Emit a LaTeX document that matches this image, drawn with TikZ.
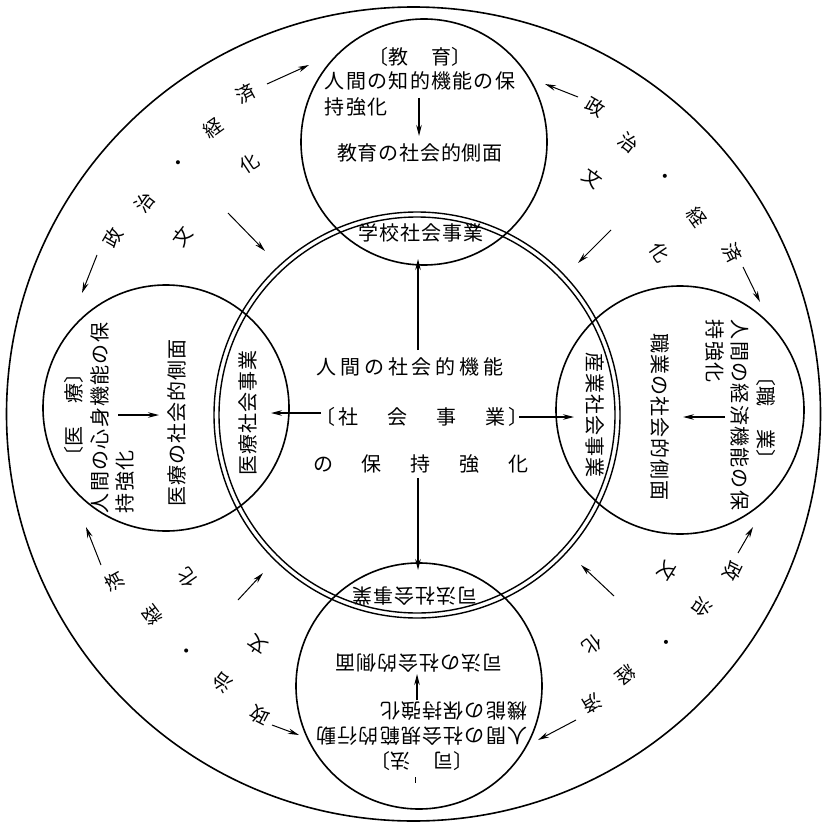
\documentclass[tikz,border=0pt]{standalone}
\usepackage{fontspec}
\newfontfamily\jp{Noto Sans CJK JP}
\usetikzlibrary{arrows.meta}
\makeatletter
\newcommand\spc[2]{\begingroup\@tfor\spcch:=#2\do{\makebox[#1]{\spcch}}\endgroup}
\makeatother
\begin{document}
\begin{tikzpicture}[x=1pt,y=-1pt,
  txt/.style={font=\jp\fontsize{20}{22}\selectfont, inner sep=0pt},
  ringch/.style={font=\jp\fontsize{19}{20}\selectfont, inner sep=0pt},
  circ/.style={draw, circle, line width=1.6pt, inner sep=0pt},
  dcirc/.style={draw, circle, line width=1.4pt, inner sep=0pt},
  arr/.style={-{Stealth[length=11pt,width=5.5pt]}, line width=1.2pt},
  rarr/.style={-{Stealth[length=11pt,width=5.5pt]}, line width=1pt}]
\fill[white] (0,0) rectangle (821,826);
\useasboundingbox (0,0) rectangle (821,826);

% circles
\node[circ, minimum size=814pt] (outer) at (413.5,414) {};
\node[dcirc, minimum size=406pt] (mainO) at (417,415) {};
\node[dcirc, minimum size=396pt] (mainI) at (417,415) {};
\node[circ, minimum size=246pt] (topC) at (424,142) {};
\node[circ, minimum size=248pt] (rightC) at (680,410) {};
\node[circ, minimum size=246pt] (botC) at (419,686) {};
\node[circ, minimum size=246pt] (leftC) at (166,408) {};

% top circle
\node[txt] (t1) at (420,57) {〔教\hspace{23pt}育〕};
\node[txt, anchor=west] (t2) at (324,81) {\spc{21.3pt}{人間の知的機能の保}};
\node[txt, anchor=west] (t3) at (324,107) {\spc{21.3pt}{持強化}};
\node[txt] (t4) at (420,153) {\spc{20.8pt}{教育の社会的側面}};
\node[txt] (t5) at (421,233) {\spc{21pt}{学校社会事業}};
\coordinate (ta1) at (419,98); \coordinate (ta2) at (419,136);
\draw[arr] (ta1) -- (ta2);

% right circle
\node[txt, rotate=-90] (r1) at (766,418) {〔職\hspace{23pt}業〕};
\node[txt, rotate=-90, anchor=west] (r2) at (740,319) {\spc{21.3pt}{人間の経済機能の保}};
\node[txt, rotate=-90, anchor=west] (r3) at (715,319) {\spc{21.3pt}{持強化}};
\node[txt, rotate=-90] (r4) at (660,417) {\spc{21pt}{職業の社会的側面}};
\node[txt, rotate=-90] (r5) at (595,415) {\spc{21pt}{産業社会事業}};
\coordinate (ra1) at (725,417); \coordinate (ra2) at (683,417);
\draw[arr] (ra1) -- (ra2);

% bottom circle
\node[txt, rotate=180] (b1) at (422,761) {〔司\hspace{23pt}法〕};
\node[txt, rotate=180, anchor=west] (b2) at (528,736) {\spc{21.2pt}{人間の社会規範的行動}};
\node[txt, rotate=180, anchor=west] (b3) at (528,711) {\spc{21.2pt}{機能の保持強化}};
\node[txt, rotate=180] (b4) at (419,663) {\spc{21pt}{司法の社会的側面}};
\node[txt, rotate=180] (b5) at (415,596) {\spc{21pt}{司法社会事業}};
\coordinate (ba1) at (417,700); \coordinate (ba2) at (417,674);
\draw[arr] (ba1) -- (ba2);
\coordinate (tk1) at (415,777); \coordinate (tk2) at (415,783);
\draw[line width=1pt] (tk1) -- (tk2);

% left circle
\node[txt, rotate=90] (l1) at (74,415) {〔医\hspace{23pt}療〕};
\node[txt, rotate=90, anchor=west] (l2) at (100,514) {\spc{21.3pt}{人間の心身機能の保}};
\node[txt, rotate=90, anchor=west] (l3) at (125,514) {\spc{21.3pt}{持強化}};
\node[txt, rotate=90] (l4) at (177,423) {\spc{21pt}{医療の社会的側面}};
\node[txt, rotate=90] (l5) at (248,413) {\spc{21pt}{医療社会事業}};
\coordinate (la1) at (118,415); \coordinate (la2) at (159,415);
\draw[arr] (la1) -- (la2);

% center
\node[txt] (c1) at (410,367) {\spc{23.8pt}{人間の社会的機能}};
\node[txt] (c2) at (422,417) {〔\hspace{3pt}社\hspace{29pt}会\hspace{29pt}事\hspace{29pt}業\hspace{3pt}〕};
\node[txt] (c3) at (421,464) {\spc{49pt}{の保持強化}};
\coordinate (cu1) at (418,350); \coordinate (cu2) at (418,259);
\coordinate (cd1) at (418,478); \coordinate (cd2) at (418,570);
\coordinate (cl1) at (321,413); \coordinate (cl2) at (271,413);
\coordinate (cr1) at (519,417); \coordinate (cr2) at (574,417);
\draw[arr] (cu1) -- (cu2);
\draw[arr] (cd1) -- (cd2);
\draw[arr] (cl1) -- (cl2);
\draw[arr] (cr1) -- (cr2);

% ring: top-left
\node[ringch, rotate=59.8] (q1a) at (113,238) {政};
\node[ringch, rotate=52] (q1b) at (145,203) {治};
\node[ringch, rotate=43.5] (q1c) at (180,165) {・};
\node[ringch, rotate=35.4] (q1d) at (213,128) {経};
\node[ringch, rotate=28] (q1e) at (246,94) {済};
\node[ringch, rotate=52.7] (q1f) at (183,237) {文};
\node[ringch, rotate=33.5] (q1g) at (250,163) {化};
% ring: top-right
\node[ringch, rotate=-30] (q2a) at (595,107) {政};
\node[ringch, rotate=-37.8] (q2b) at (628,143) {治};
\node[ringch, rotate=-46] (q2c) at (663,178) {・};
\node[ringch, rotate=-54.7] (q2d) at (697,217) {経};
\node[ringch, rotate=-62.8] (q2e) at (732,253) {済};
\node[ringch, rotate=-36.4] (q2f) at (592,178) {文};
\node[ringch, rotate=-56.1] (q2g) at (660,252) {化};
% ring: bottom-right
\node[ringch, rotate=-116.3] (q3a) at (733,571) {政};
\node[ringch, rotate=-124] (q3b) at (702,607) {治};
\node[ringch, rotate=-132.3] (q3c) at (665,641) {・};
\node[ringch, rotate=-141.2] (q3d) at (626,675) {経};
\node[ringch, rotate=-148.8] (q3e) at (592,704) {済};
\node[ringch, rotate=-121.9] (q3f) at (668,571) {文};
\node[ringch, rotate=-142.7] (q3g) at (592,645) {化};
% ring: bottom-left
\node[ringch, rotate=152.4] (q4a) at (260,715) {政};
\node[ringch, rotate=144.1] (q4b) at (223,683) {治};
\node[ringch, rotate=135.6] (q4c) at (188,649) {・};
\node[ringch, rotate=127] (q4d) at (152,615) {経};
\node[ringch, rotate=119] (q4e) at (115,582) {済};
\node[ringch, rotate=145.3] (q4f) at (258,645) {文};
\node[ringch, rotate=125.3] (q4g) at (187,578) {化};

% ring arrows
\coordinate (a1s) at (267,84);  \coordinate (a1e) at (309,65);
\coordinate (a2s) at (97,255);  \coordinate (a2e) at (82,293);
\coordinate (a3s) at (228,213); \coordinate (a3e) at (265,251);
\coordinate (a4s) at (578,97);  \coordinate (a4e) at (545,84);
\coordinate (a5s) at (743,267); \coordinate (a5e) at (760,302);
\coordinate (a6s) at (611,230); \coordinate (a6e) at (578,263);
\coordinate (a7s) at (738,553); \coordinate (a7e) at (753,527);
\coordinate (a8s) at (614,596); \coordinate (a8e) at (581,565);
\coordinate (a9s) at (576,720); \coordinate (a9e) at (538,740);
\coordinate (a10s) at (101,565); \coordinate (a10e) at (86,527);
\coordinate (a11s) at (238,600); \coordinate (a11e) at (263,573);
\coordinate (a12s) at (272,725); \coordinate (a12e) at (299,735);
\foreach \i in {1,...,12} {\draw[rarr] (a\i s) -- (a\i e);}
\end{tikzpicture}
\end{document}
